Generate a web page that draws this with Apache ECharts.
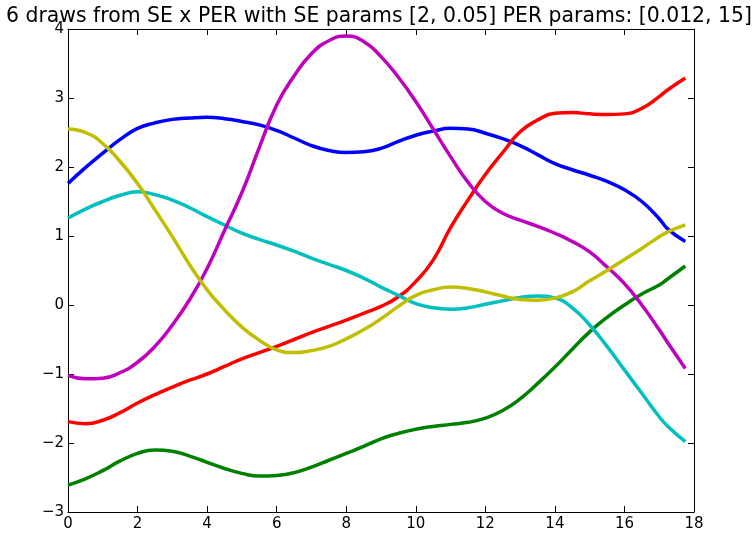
<!DOCTYPE html>
<html><head><meta charset="utf-8">
<script src="https://cdn.jsdelivr.net/npm/echarts@6/dist/echarts.min.js"></script>
<style>html,body{margin:0;padding:0;background:#fff}#c{width:755px;height:539px}</style>
</head><body><div id="c"></div>
<script>
const titleText = "6 draws from SE x PER with SE params [2, 0.05] PER params: [0.012, 15]";
const xs = [0,0.5,1,1.5,2,2.5,3,3.5,4,4.5,5,5.5,6,6.5,7,7.5,8,8.5,9,9.5,10,10.5,11,11.5,12,12.5,13,13.5,14,14.5,15,15.5,16,16.5,17,17.25,17.75];
const blue    = [1.76,1.99,2.20,2.40,2.56,2.64,2.69,2.71,2.72,2.70,2.66,2.61,2.53,2.42,2.31,2.24,2.21,2.22,2.27,2.37,2.46,2.52,2.56,2.55,2.49,2.41,2.31,2.18,2.05,1.96,1.88,1.79,1.67,1.50,1.25,1.10,0.92];
const green   = [-2.61,-2.52,-2.40,-2.26,-2.15,-2.10,-2.12,-2.19,-2.28,-2.37,-2.44,-2.48,-2.47,-2.43,-2.35,-2.25,-2.15,-2.05,-1.94,-1.86,-1.80,-1.76,-1.73,-1.70,-1.64,-1.53,-1.36,-1.14,-0.90,-0.64,-0.39,-0.18,0.0,0.16,0.29,0.38,0.565];
const red     = [-1.69,-1.72,-1.67,-1.56,-1.42,-1.30,-1.19,-1.09,-1.00,-0.89,-0.78,-0.69,-0.60,-0.50,-0.40,-0.31,-0.22,-0.12,-0.02,0.12,0.34,0.65,1.12,1.52,1.89,2.21,2.51,2.68,2.78,2.79,2.77,2.76,2.77,2.85,3.02,3.12,3.29];
const cyan    = [1.26,1.39,1.50,1.59,1.64,1.60,1.52,1.41,1.28,1.16,1.04,0.95,0.87,0.78,0.68,0.59,0.50,0.39,0.26,0.14,0.02,-0.04,-0.06,-0.04,0.01,0.06,0.11,0.13,0.10,-0.04,-0.29,-0.60,-0.94,-1.28,-1.62,-1.76,-1.98];
const magenta = [-1.02,-1.07,-1.06,-0.98,-0.83,-0.60,-0.29,0.08,0.53,1.08,1.63,2.28,2.90,3.32,3.64,3.83,3.90,3.82,3.60,3.30,2.95,2.55,2.15,1.78,1.50,1.33,1.23,1.14,1.04,0.92,0.77,0.55,0.31,0.0,-0.36,-0.55,-0.92];
const yellow  = [2.55,2.50,2.34,2.08,1.76,1.38,0.99,0.58,0.22,-0.07,-0.32,-0.51,-0.65,-0.69,-0.66,-0.60,-0.49,-0.36,-0.20,-0.02,0.14,0.22,0.26,0.24,0.19,0.13,0.08,0.07,0.10,0.19,0.35,0.50,0.66,0.82,0.99,1.06,1.16];
const xTicks = [0,2,4,6,8,10,12,14,16,18];
const yTicks = [-3,-2,-1,0,1,2,3,4];

const seriesDefs = [
  [blue,'#0000ff'],[green,'#008000'],[red,'#ff0000'],
  [cyan,'#00bfbf'],[magenta,'#bf00bf'],[yellow,'#bfbf00']
];
const fmt = v => String(v).replace('-', '\u2212');
const lbl = {color:'#000', fontFamily:'DejaVu Sans', fontSize:15};
const chart = echarts.init(document.getElementById('c'), null, {renderer:'canvas'});
const axisCommon = () => ({
  axisLine:{show:true, onZero:false, lineStyle:{color:'#000', width:1}},
  axisTick:{show:true, inside:true, length:6, lineStyle:{color:'#000'}},
  splitLine:{show:false}
});
chart.setOption({
  animation:false,
  title:{text:titleText, left:374, textAlign:'center', top:2,
    textStyle:{fontFamily:'DejaVu Sans', fontSize:20.4, fontWeight:'normal', color:'#000'}},
  grid:{left:68, right:61, top:29, bottom:27, show:false},
  xAxis:[
    Object.assign({type:'value', min:xTicks[0], max:xTicks[xTicks.length-1], interval:2, position:'bottom',
      axisLabel:Object.assign({margin:5, formatter:fmt}, lbl)}, axisCommon()),
    Object.assign({type:'value', min:xTicks[0], max:xTicks[xTicks.length-1], interval:2, position:'top',
      axisLabel:{show:false}}, axisCommon())
  ],
  yAxis:[
    Object.assign({type:'value', min:yTicks[0], max:yTicks[yTicks.length-1], interval:1, position:'left',
      axisLabel:Object.assign({margin:4, formatter:fmt}, lbl)}, axisCommon()),
    Object.assign({type:'value', min:yTicks[0], max:yTicks[yTicks.length-1], interval:1, position:'right',
      axisLabel:{show:false}}, axisCommon())
  ],
  series: seriesDefs.map(([d,c]) => ({
    type:'line', smooth:0.5, showSymbol:false, symbol:'none',
    data: xs.map((x,i) => [x, d[i]]),
    lineStyle:{color:c, width:3.5}, itemStyle:{color:c}
  }))
});
</script></body></html>
